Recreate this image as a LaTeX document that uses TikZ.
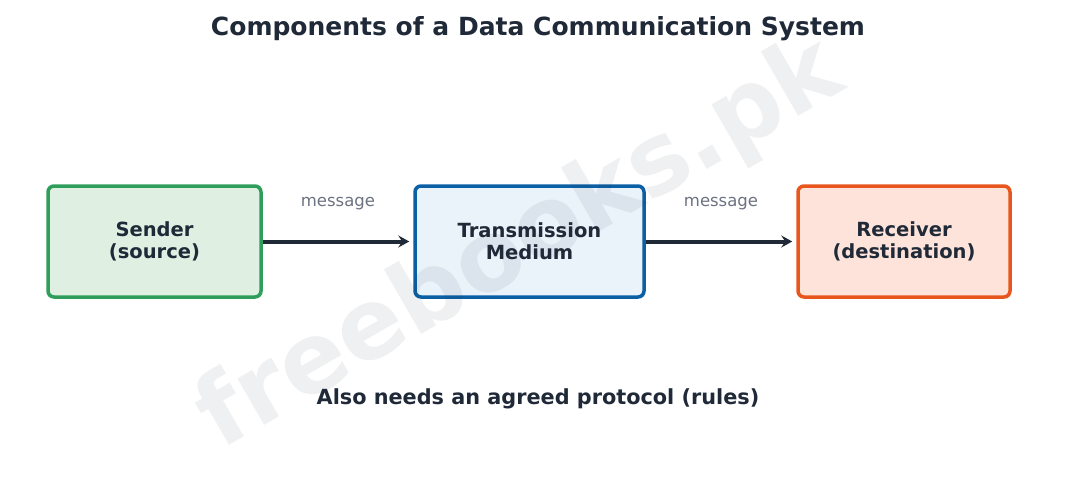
\documentclass[tikz,border=0pt]{standalone}
\usepackage{fontspec}
\setmainfont{DejaVu Sans}
\usetikzlibrary{arrows.meta}
\definecolor{ink}{HTML}{1F2937}
\definecolor{muted}{HTML}{6B7280}
\definecolor{gstroke}{HTML}{2E9E5A}
\definecolor{gfill}{HTML}{DFF0E3}
\definecolor{bstroke}{HTML}{0B5FA5}
\definecolor{bfill}{HTML}{EAF2FA}
\definecolor{ostroke}{HTML}{E8561E}
\definecolor{ofill}{HTML}{FDE3D9}
\tikzset{
  x=1pt, y=-1pt,
  box/.style={draw, line width=3.5pt, rounded corners=6pt, minimum height=111pt, align=center, font=\bfseries\fontsize{19.5}{22}\selectfont, text=ink},
  flow/.style={-{Stealth[length=11pt,width=12pt,inset=4pt]}, line width=4pt, draw=ink, shorten >=4pt},
  lbl/.style={font=\fontsize{16.5}{19}\selectfont, text=muted},
}
\begin{document}
\begin{tikzpicture}
\useasboundingbox (0,0) rectangle (1076,477);
\node[font=\bfseries\fontsize{25}{29}\selectfont, text=ink] (title) at (538,29) {Components of a Data Communication System};
\node[box, draw=gstroke, fill=gfill, minimum width=213pt] (sender) at (154.5,241.5) {Sender\\(source)};
\node[box, draw=bstroke, fill=bfill, minimum width=229pt] (medium) at (529.5,241.5) {Transmission\\Medium};
\node[box, draw=ostroke, fill=ofill, minimum width=212pt] (receiver) at (904,241.5) {Receiver\\(destination)};
\draw[flow] (sender.east) -- (medium.west);
\draw[flow] (medium.east) -- (receiver.west);
\node[lbl] (m1) at (338,204) {message};
\node[lbl] (m2) at (721,204) {message};
\node[font=\bfseries\fontsize{20.8}{24}\selectfont, text=ink] (note) at (538,399) {Also needs an agreed protocol (rules)};
\node[font=\bfseries\fontsize{98}{112}\selectfont, text=ink, opacity=0.07, rotate=30] (wm) at (521,246) {freebooks.pk};
\end{tikzpicture}
\end{document}
